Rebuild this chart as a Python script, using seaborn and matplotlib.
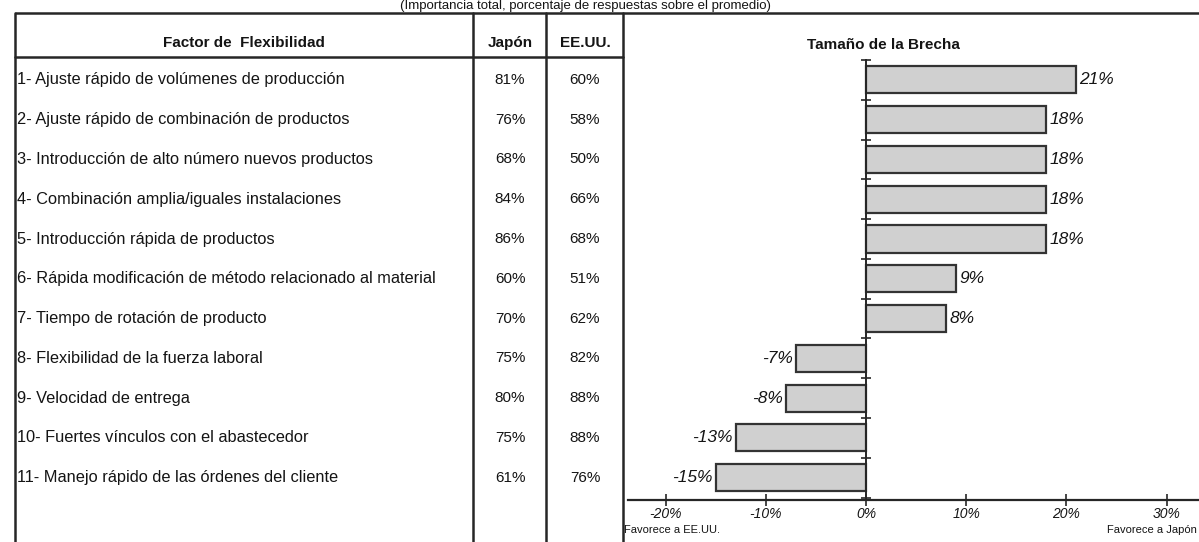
import numpy as np
import matplotlib
matplotlib.use("Agg")
import matplotlib.pyplot as plt
import matplotlib.transforms as mtransforms
import seaborn as sns
import pandas as pd

# ---------------- data ----------------
factores = [
    "1- Ajuste rápido de volúmenes de producción",
    "2- Ajuste rápido de combinación de productos",
    "3- Introducción de alto número nuevos productos",
    "4- Combinación amplia/iguales instalaciones",
    "5- Introducción rápida de productos",
    "6- Rápida modificación de método relacionado al material",
    "7- Tiempo de rotación de producto",
    "8- Flexibilidad de la fuerza laboral",
    "9- Velocidad de entrega",
    "10- Fuertes vínculos con el abastecedor",
    "11- Manejo rápido de las órdenes del cliente",
]
japon = [81, 76, 68, 84, 86, 60, 70, 75, 80, 75, 61]
eeuu = [60, 58, 50, 66, 68, 51, 62, 82, 88, 88, 76]
brecha = [21, 18, 18, 18, 18, 9, 8, -7, -8, -13, -15]
xticks = [-20, -10, 0, 10, 20, 30]
xtick_labels = ["-20%", "-10%", "0%", "10%", "20%", "30%"]

subtitulo = "(Importancia total, porcentaje de respuestas sobre el promedio)"
col_headers = ["Factor de  Flexibilidad", "Japón", "EE.UU."]
panel_title = "Tamaño de la Brecha"
nota_izq = "Favorece a EE.UU."
nota_der = "Favorece a Japón"

df = pd.DataFrame({"factor": factores, "brecha": brecha})

# ---------------- style ----------------
sns.set_theme(style="white")
plt.rcParams["font.family"] = ["Liberation Sans", "DejaVu Sans"]

W, H = 1199, 542
fig = plt.figure(figsize=(W / 100, H / 100), dpi=100)
fig.patch.set_facecolor("white")

LINE = "#262626"
TXT = "#141414"

# background axes in pixel coordinates for the table frame
bg = fig.add_axes([0, 0, 1, 1])
bg.set_xlim(0, W)
bg.set_ylim(H, 0)
bg.axis("off")

# chart axes
left_px, right_px, top_px, bot_px = 628, 1199, 60, 500
ax = fig.add_axes([left_px / W, (H - bot_px) / H,
                   (right_px - left_px) / W, (bot_px - top_px) / H])
ax.set_facecolor("none")

sns.barplot(data=df, x="brecha", y="factor", orient="h", ax=ax,
            color="#d0d0d0", edgecolor="#333333", linewidth=1.6,
            width=0.68, saturation=1)

n = len(factores)
ax.set_xlim(-23.75, 33.23)
ax.set_ylim(n - 0.44, -0.5)

# bar labels
for i, v in enumerate(brecha):
    if v >= 0:
        ax.text(v + 0.3, i, f"{v}%", ha="left", va="center",
                fontsize=12.5, style="italic", color=TXT)
    else:
        ax.text(v - 0.3, i, f"{v}%", ha="right", va="center",
                fontsize=12.5, style="italic", color=TXT)

# axes styling
for s in ["top", "right"]:
    ax.spines[s].set_visible(False)
ax.spines["left"].set_position(("data", 0))
ax.spines["left"].set_color(LINE)
ax.spines["left"].set_linewidth(1.4)
ax.spines["bottom"].set_color(LINE)
ax.spines["bottom"].set_linewidth(1.6)
ax.set_yticks(np.arange(-0.5, n, 1.0))
ax.set_yticklabels([""] * len(np.arange(-0.5, n, 1.0)))
ax.tick_params(axis="y", direction="inout", length=7, width=1.2,
               color=LINE, left=True)
ax.set_xticks(xticks)
ax.set_xticklabels(xtick_labels, fontsize=10, style="italic", color=TXT)
ax.tick_params(axis="x", direction="inout", length=8, width=1.2,
               color=LINE, bottom=True, pad=1)
ax.set_xlabel("")
ax.set_ylabel("")
ax.grid(False)

# ---------------- table frame ----------------
lw = 1.8
bg.plot([15, W], [13, 13], color=LINE, lw=lw, solid_capstyle="butt")
bg.plot([15, 623], [57, 57], color=LINE, lw=lw)
for xv in [15, 473, 546, 623]:
    bg.plot([xv, xv], [13, H + 5], color=LINE, lw=lw)

bg.text(585, 12, subtitulo, ha="center", va="bottom", fontsize=9.5,
        color=TXT)

# headers
bg.text(244, 43, col_headers[0], ha="center", va="center",
        fontsize=11, fontweight="bold", color=TXT)
bg.text(510, 43, col_headers[1], ha="center", va="center",
        fontsize=11, fontweight="bold", color=TXT)
bg.text(585, 43, col_headers[2], ha="center", va="center",
        fontsize=11, fontweight="bold", color=TXT)
bg.text(883, 45, panel_title, ha="center", va="center",
        fontsize=11, fontweight="bold", color=TXT)

# rows aligned with the bar categories
trans = mtransforms.blended_transform_factory(bg.transData, ax.transData)
for i, (f, j, u) in enumerate(zip(factores, japon, eeuu)):
    bg.text(17, i, f, transform=trans, ha="left", va="center",
            fontsize=11.8, color=TXT)
    bg.text(510, i, f"{j}%", transform=trans, ha="center", va="center",
            fontsize=11, color=TXT)
    bg.text(585, i, f"{u}%", transform=trans, ha="center", va="center",
            fontsize=11, color=TXT)

bg.text(624, 530, nota_izq, ha="left", va="center", fontsize=8, color=TXT)
bg.text(1197, 530, nota_der, ha="right", va="center", fontsize=8, color=TXT)

fig.savefig("out.png", dpi=100, facecolor="white")
